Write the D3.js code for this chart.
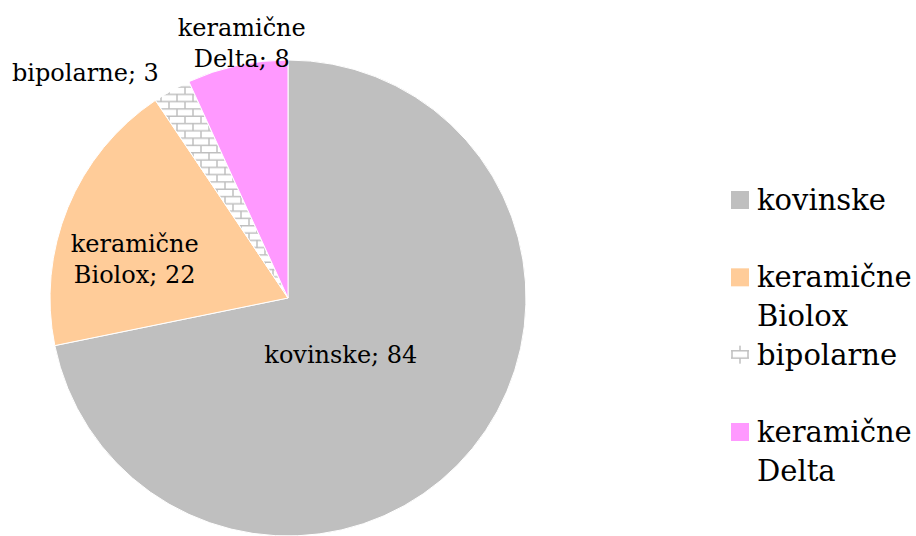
<!DOCTYPE html>
<html>
<head>
<meta charset="utf-8">
<script src="https://cdn.jsdelivr.net/npm/d3@7"></script>
<style>
  html, body { margin: 0; padding: 0; background: #fff; }
  svg { display: block; }
  text { font-family: 'DejaVu Serif', serif; fill: #000; }
</style>
</head>
<body>
<div id="chart"></div>
<script>
// vrste glav — podatki iz slike
var categories = ['kovinske', 'keramične Biolox', 'bipolarne', 'keramične Delta'];
var values = [84, 22, 3, 8];
var colors = ['#BFBFBF', '#FFCC99', 'url(#bricks)', '#FF99FF'];

// položaj oznak: faktor polmera in majhen zamik
var labelRadius = [0.33, 0.66, 1.27, 1.09];
var labelNudge = [[-8, 8], [-8, 22], [-55, 40], [9, 0]];

var width = 916, height = 536;
var cx = 288, cy = 298, r = 238;

var svg = d3.select('#chart').append('svg')
  .attr('width', width)
  .attr('height', height);

var defs = svg.append('defs');
var pat = defs.append('pattern')
  .attr('id', 'bricks')
  .attr('patternUnits', 'userSpaceOnUse')
  .attr('width', 16)
  .attr('height', 14.6);
pat.append('rect').attr('width', 16).attr('height', 14.6).attr('fill', '#fff');
pat.append('path')
  .attr('d', 'M0,0.7H16M0,8H16M1,0.7V8M9,8V14.6')
  .attr('stroke', '#BFBFBF')
  .attr('stroke-width', 1.5)
  .attr('fill', 'none');

var pie = d3.pie().sort(null).value(function (d) { return d; });
var arcs = pie(values);
var arc = d3.arc().innerRadius(0).outerRadius(r);

var g = svg.append('g').attr('transform', 'translate(' + cx + ',' + cy + ')');

g.selectAll('path.slice')
  .data(arcs)
  .join('path')
    .attr('class', 'slice')
    .attr('d', arc)
    .attr('fill', function (d, i) { return colors[i]; })
    .attr('stroke', '#fff')
    .attr('stroke-width', 1);

function labelLines(i) {
  var words = categories[i].split(' ');
  words[words.length - 1] += '; ' + values[i];
  return words;
}

var lineH = 31;
g.selectAll('text.lbl')
  .data(arcs)
  .join('text')
    .attr('class', 'lbl')
    .attr('font-size', '24px')
    .attr('text-anchor', 'middle')
    .each(function (d, i) {
      var a = (d.startAngle + d.endAngle) / 2;
      var rr = labelRadius[i] * r;
      var x = Math.sin(a) * rr + labelNudge[i][0];
      var y = -Math.cos(a) * rr + labelNudge[i][1];
      var lines = labelLines(i);
      var y0 = y - (lines.length - 1) * lineH / 2 + 7;
      d3.select(this).selectAll('tspan')
        .data(lines)
        .join('tspan')
          .attr('x', x)
          .attr('y', function (t, j) { return y0 + j * lineH; })
          .text(function (t) { return t; });
    });

// legenda
var ly = d3.scalePoint().domain(categories).range([210, 442]);
var legend = svg.append('g').attr('class', 'legend');
var item = legend.selectAll('g')
  .data(categories)
  .join('g')
    .attr('transform', function (d) { return 'translate(731,' + ly(d) + ')'; });

item.append('rect')
  .attr('x', 0)
  .attr('y', -19)
  .attr('width', 18)
  .attr('height', 18)
  .attr('fill', function (d, i) { return colors[i]; });

item.append('text')
  .attr('x', 26)
  .attr('font-size', '29px')
  .each(function (d) {
    d3.select(this).selectAll('tspan')
      .data(d.split(' '))
      .join('tspan')
        .attr('x', 26)
        .attr('y', function (t, j) { return j * 39; })
        .text(function (t) { return t; });
  });
</script>
</body>
</html>
